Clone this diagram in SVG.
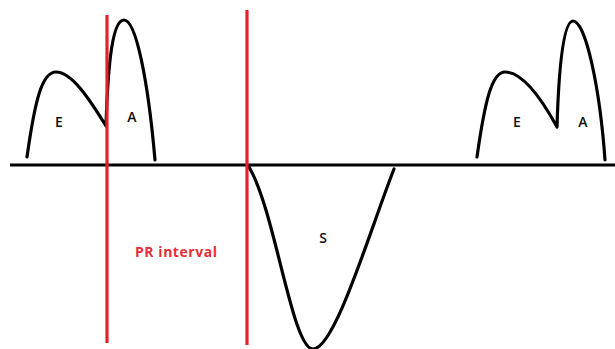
<svg xmlns="http://www.w3.org/2000/svg" width="615" height="349" viewBox="0 0 615 349">
<style>
.w{fill:none;stroke:#000;stroke-width:3.2;stroke-linecap:round;stroke-linejoin:round}
.r{stroke:#e3202b;stroke-width:3.2}
.t{font-family:"Open Sans","Liberation Sans",sans-serif;font-size:14px;font-weight:600;fill:#111}
.pr{font-family:"Open Sans","Liberation Sans",sans-serif;font-size:14px;font-weight:bold;fill:#e3303a}
</style>
<rect width="615" height="349" fill="#fff"/>
<g id="baseline"><line x1="10" y1="165" x2="615" y2="165" stroke="#000" stroke-width="3"/></g>
<g id="wave-left">
<path class="w" d="M27,157 C35,100 42,72 56,72 C72,72 90,100 106,126 C108,60 113,20 124,20 C136,20 148,80 155,160"/>
<text class="t" x="59" y="127" text-anchor="middle">E</text>
<text class="t" x="132" y="122" text-anchor="middle">A</text>
</g>
<g id="wave-s">
<path class="w" d="M249,167 C275,210 292,349 313,349 C335,349 370,230 394,169"/>
<text class="t" x="323" y="243" text-anchor="middle">S</text>
</g>
<g id="wave-right">
<path class="w" d="M477,157 C485,100 492,72 505,72 C525,72 545,105 557,127 C559,60 564,21 573,21 C586,21 600,90 605,160"/>
<text class="t" x="517" y="127" text-anchor="middle">E</text>
<text class="t" x="583" y="127" text-anchor="middle">A</text>
</g>
<g id="markers">
<line class="r" x1="107" y1="15" x2="107" y2="343"/>
<line class="r" x1="247" y1="10" x2="247" y2="345"/>
</g>
<g id="label"><text class="pr" x="176" y="257" text-anchor="middle" textLength="82">PR interval</text></g>
</svg>
